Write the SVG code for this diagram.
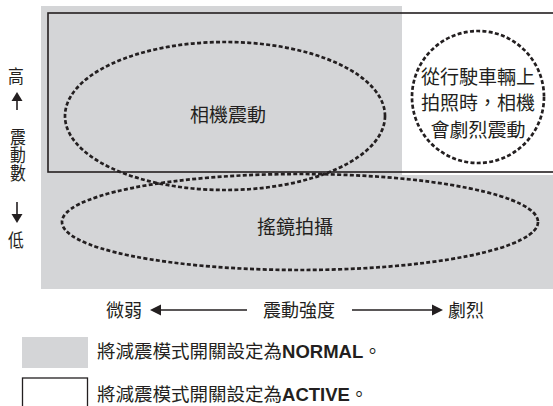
<svg xmlns="http://www.w3.org/2000/svg" width="553" height="406" viewBox="0 0 553 406">
<style>
.t{font-family:"Liberation Sans","Noto Sans CJK TC",sans-serif;fill:#231f20;}
.c{font-size:19px;text-anchor:middle;}
.v{font-size:18px;text-anchor:middle;}
.vt{font-size:18px;writing-mode:vertical-rl;text-orientation:upright;}
.lg{font-size:18.5px;}
.b{font-weight:bold;}
.dash{fill:none;stroke:#231f20;stroke-width:2.7;stroke-dasharray:4 2.3;}
.ax{stroke:#231f20;stroke-width:1.6;fill:none;}
.hd{fill:#231f20;}
</style>
<g id="normal-area">
<polygon points="41,6 402,6 402,175 553,175 553,289 41,289" fill="#d4d5d7"/>
</g>
<g id="active-area">
<rect x="48" y="13" width="510" height="159" fill="none" stroke="#231f20" stroke-width="1.6"/>
</g>
<g id="camera-shake">
<ellipse cx="225" cy="116" rx="160" ry="74" class="dash"/>
<text class="t c" x="228" y="122">相機震動</text>
</g>
<g id="panning">
<ellipse cx="300" cy="222" rx="238" ry="48" class="dash"/>
<text class="t c" x="295" y="234">搖鏡拍攝</text>
</g>
<g id="vehicle">
<circle cx="478" cy="97" r="66" class="dash"/>
<text class="t c" x="478" y="84">從行駛車輛上</text>
<text class="t c" x="478" y="110">拍照時，相機</text>
<text class="t c" x="478" y="137">會劇烈震動</text>
</g>
<g id="y-axis">
<text class="t v" transform="translate(16,83) scale(0.88,1)">高</text>
<text class="t vt" transform="translate(16,128) scale(0.88,1)" x="0" y="0">震動數</text>
<text class="t v" transform="translate(16,247) scale(0.88,1)">低</text>
</g>
<g id="x-axis">
<text class="t v" x="124" y="317">微弱</text>
<text class="t v" x="299" y="317">震動強度</text>
<text class="t v" x="466" y="317">劇烈</text>
</g>
<g id="connectors">
<line class="ax" x1="17" y1="110" x2="17" y2="99"/>
<polygon class="hd" points="17,92 11.5,101 22.5,101"/>
<line class="ax" x1="17" y1="202" x2="17" y2="215"/>
<polygon class="hd" points="17,223 11.5,214 22.5,214"/>
<line class="ax" x1="158" y1="310" x2="247" y2="310"/>
<polygon class="hd" points="150,310 161,304.5 161,315.5"/>
<line class="ax" x1="352" y1="310" x2="435" y2="310"/>
<polygon class="hd" points="443,310 432,304.5 432,315.5"/>
</g>
<g id="legend-normal">
<rect x="22" y="337" width="66" height="31" fill="#d4d5d7"/>
<text class="t lg" x="97" y="357.5">將減震模式開關設定為<tspan class="b">NORMAL</tspan>。</text>
</g>
<g id="legend-active">
<rect x="22.5" y="378" width="65" height="40" fill="#fff" stroke="#231f20" stroke-width="1.3"/>
<text class="t lg" x="97" y="400.5">將減震模式開關設定為<tspan class="b">ACTIVE</tspan>。</text>
</g>
</svg>
